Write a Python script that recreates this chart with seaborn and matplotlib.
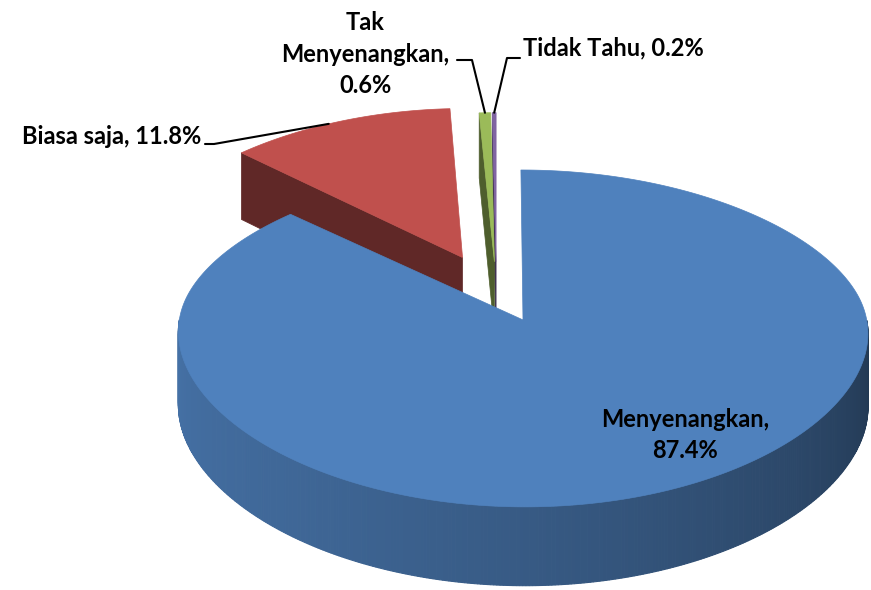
import numpy as np
import matplotlib.pyplot as plt
from matplotlib.patches import Polygon
import matplotlib.colors as mcolors
import seaborn as sns

# data
labels = ["Menyenangkan", "Biasa saja", "Tak\nMenyenangkan", "Tidak Tahu"]
values = [87.4, 11.8, 0.6, 0.2]
seps = ["\n", " ", "\n", " "]
explode = [0.2, 0.25, 0.2, 0.2]
top_colors = ["#4F81BD", "#C0504D", "#9BBB59", "#8064A2"]

sns.set_theme(style="white")
plt.rcParams['font.family'] = ['Lato', 'DejaVu Sans']

# fake 3d projection (pixel space)
X0, Y0 = 496.5, 291.5
A, B, C, K = 338.7, 149.0, 27.7, 0.08
DEPTH = 72


def proj(u, v, z=0.0):
    s = 1 + K * v
    return X0 + A * u * s, Y0 + B * v + C * max(v, 0) ** 2 + z * DEPTH * s


def shade(col, f):
    r, g, b = mcolors.to_rgb(col)
    return (r * f, g * f, b * f)


def wall_factor(th):
    t = np.mod(th, 360)
    return np.interp(t, [180, 230, 270, 320, 360], [0.88, 0.80, 0.70, 0.55, 0.42])


fig = plt.figure(figsize=(8.71, 5.90), dpi=100)
ax = fig.add_axes([0, 0, 1, 1])
ax.set_xlim(0, 871)
ax.set_ylim(590, 0)
ax.axis('off')

total = sum(values)
cum = np.concatenate([[0], np.cumsum(values)])
slices = []
for i, val in enumerate(values):
    t1 = 90 - cum[i] / total * 360
    t2 = 90 - cum[i + 1] / total * 360
    mid = np.radians((t1 + t2) / 2)
    ou, ov = explode[i] * np.cos(mid), -explode[i] * np.sin(mid)
    slices.append((i, t1, t2, ou, ov, -np.sin(mid)))

# back to front
order = sorted(slices, key=lambda s: s[4] + 0.5 * s[5])

for i, t1, t2, ou, ov, _ in order:
    col = top_colors[i]
    th = np.linspace(t1, t2, max(int(abs(t1 - t2) * 2), 4))
    rad = np.radians(th)
    # radial walls
    for te, sgn in [(t1, 1), (t2, -1)]:
        nrm = np.radians(te + sgn * 90)
        if -np.sin(nrm) > 0.005:
            e = np.radians(te)
            pts = [proj(ou, ov, 0), proj(ou + np.cos(e), ov - np.sin(e), 0),
                   proj(ou + np.cos(e), ov - np.sin(e), 1), proj(ou, ov, 1)]
            ax.add_patch(Polygon(pts, closed=True, fc=shade(col, 0.5),
                                 ec=shade(col, 0.5), lw=0.5))
    # outer wall, front part only
    for a0, a1, d0, d1 in zip(rad[:-1], rad[1:], th[:-1], th[1:]):
        if np.sin((a0 + a1) / 2) < 0:
            fc = shade(col, wall_factor((d0 + d1) / 2))
            pts = [proj(ou + np.cos(a0), ov - np.sin(a0), 0),
                   proj(ou + np.cos(a1), ov - np.sin(a1), 0),
                   proj(ou + np.cos(a1), ov - np.sin(a1), 1),
                   proj(ou + np.cos(a0), ov - np.sin(a0), 1)]
            ax.add_patch(Polygon(pts, closed=True, fc=fc, ec=fc, lw=0.8))
    # top face
    pts = [proj(ou, ov)] + [proj(ou + np.cos(a), ov - np.sin(a)) for a in rad]
    ax.add_patch(Polygon(pts, closed=True, fc=col, ec=col, lw=0.5))


def anchor(i, frac=0.5):
    _, t1, t2, ou, ov, _ = slices[i]
    a = np.radians(t1 + (t2 - t1) * frac)
    return proj(ou + np.cos(a), ov - np.sin(a))


texts = [f"{labels[i]},{seps[i]}{values[i]}%" for i in range(len(values))]
fs = 17
tkw = dict(fontsize=fs, fontweight='bold', color='black')

ax.text(685, 435, texts[0], ha='center', va='center', linespacing=1.45, **tkw)

ax.text(201, 137, texts[1], ha='right', va='center', **tkw)
x, y = anchor(1, 0.45)
ax.plot([205, 214, x], [144, 144, y], color='black', lw=1.5)

ax.text(365, 54, texts[2], ha='center', va='center', linespacing=1.45, **tkw)
x, y = anchor(2)
ax.plot([457, 472, x], [60, 60, y], color='black', lw=1.5)

ax.text(523, 48, texts[3], ha='left', va='center', **tkw)
x, y = anchor(3)
ax.plot([520, 507, x], [58, 58, y], color='black', lw=1.5)

fig.savefig("out.png", dpi=100)
